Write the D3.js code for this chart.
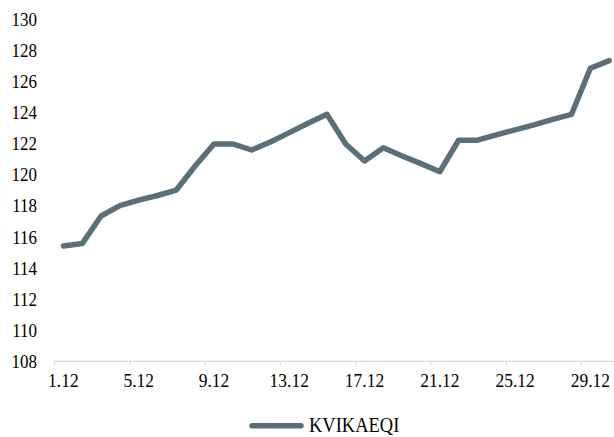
<!DOCTYPE html>
<html>
<head>
<meta charset="utf-8">
<script src="https://cdn.jsdelivr.net/npm/d3@7"></script>
<style>
  html, body { margin: 0; padding: 0; background: #fff; }
  svg { display: block; }
  svg text { font-family: "Times New Roman", "Liberation Serif", Times, serif !important; fill: #000; }
</style>
</head>
<body>
<svg id="chart" width="614" height="437"></svg>
<script>
const categories = ["1.12","2.12","3.12","4.12","5.12","6.12","7.12","8.12","9.12","10.12",
  "11.12","12.12","13.12","14.12","15.12","16.12","17.12","18.12","19.12","20.12",
  "21.12","22.12","23.12","24.12","25.12","26.12","27.12","28.12","29.12","30.12"];
const seriesName = "KVIKAEQI";
const values = [115.4, 115.55, 117.33, 118.0, 118.35, 118.65, 119.0, 120.55, 121.97, 121.97,
  121.58, 122.1, 122.7, 123.3, 123.88, 121.97, 120.87, 121.73, 121.2, 120.7,
  120.18, 122.21, 122.21, 122.55, 122.88, 123.2, 123.55, 123.88, 126.85, 127.34];
const yTicks = [108,110,112,114,116,118,120,122,124,126,128,130];
const xLabelEvery = 4;

const svg = d3.select("#chart");
const left = 54, catW = 18.82;
const y0 = 360.8, y1 = 19.3;
const color = "#5b6f78";
const sy = 1.12;

const x = d3.scaleBand().domain(categories).range([left, left + catW * categories.length]).padding(0);
const y = d3.scaleLinear().domain([108, 130]).range([y0, y1]);

// y axis labels
const yAxis = svg.append("g").attr("transform", `translate(${left},0)`)
  .call(d3.axisLeft(y).tickValues(yTicks).tickSize(0).tickPadding(17).tickFormat(d3.format("d")));
yAxis.attr("font-family", null);
yAxis.select(".domain").remove();
yAxis.selectAll("text")
  .attr("font-size", "17px")
  .attr("dy", null).attr("y", 6.4 / sy)
  .attr("transform", `scale(1,${sy})`);

// x axis
const xLabels = categories.filter((d, i) => i % xLabelEvery === 0);
const xAxis = svg.append("g").attr("transform", `translate(0,${y0})`)
  .call(d3.axisBottom(x).tickValues(xLabels).tickSize(0));
xAxis.attr("font-family", null);
xAxis.select(".domain").attr("stroke", "#d9d9d9").attr("stroke-width", 1.2)
  .attr("d", `M${left - 0.5},0.5H${left + catW * categories.length}`);
xAxis.selectAll("text")
  .attr("font-size", "17.5px")
  .attr("dy", null).attr("y", 26 / sy)
  .attr("transform", `scale(1,${sy})`);
// tick marks at category boundaries
svg.append("g").selectAll("line").data(xLabels).join("line")
  .attr("x1", d => x(d) + 0.5).attr("x2", d => x(d) + 0.5)
  .attr("y1", y0 + 0.5).attr("y2", y0 + 4.5)
  .attr("stroke", "#d9d9d9").attr("stroke-width", 1.2);

// line
const line = d3.line()
  .x((d, i) => x(categories[i]) + x.bandwidth() / 2)
  .y(d => y(d));
svg.append("path").datum(values)
  .attr("d", line)
  .attr("fill", "none")
  .attr("stroke", color)
  .attr("stroke-width", 5.5)
  .attr("stroke-linejoin", "round")
  .attr("stroke-linecap", "round");

// legend
const lg = svg.append("g");
lg.append("line").attr("x1", 252).attr("x2", 301).attr("y1", 425.7).attr("y2", 425.7)
  .attr("stroke", color).attr("stroke-width", 5.5).attr("stroke-linecap", "round");
lg.append("text").attr("x", 309).attr("y", 432 / sy)
  .attr("font-size", "18.5px")
  .attr("transform", `scale(1,${sy})`)
  .text(seriesName);
</script>
</body>
</html>
